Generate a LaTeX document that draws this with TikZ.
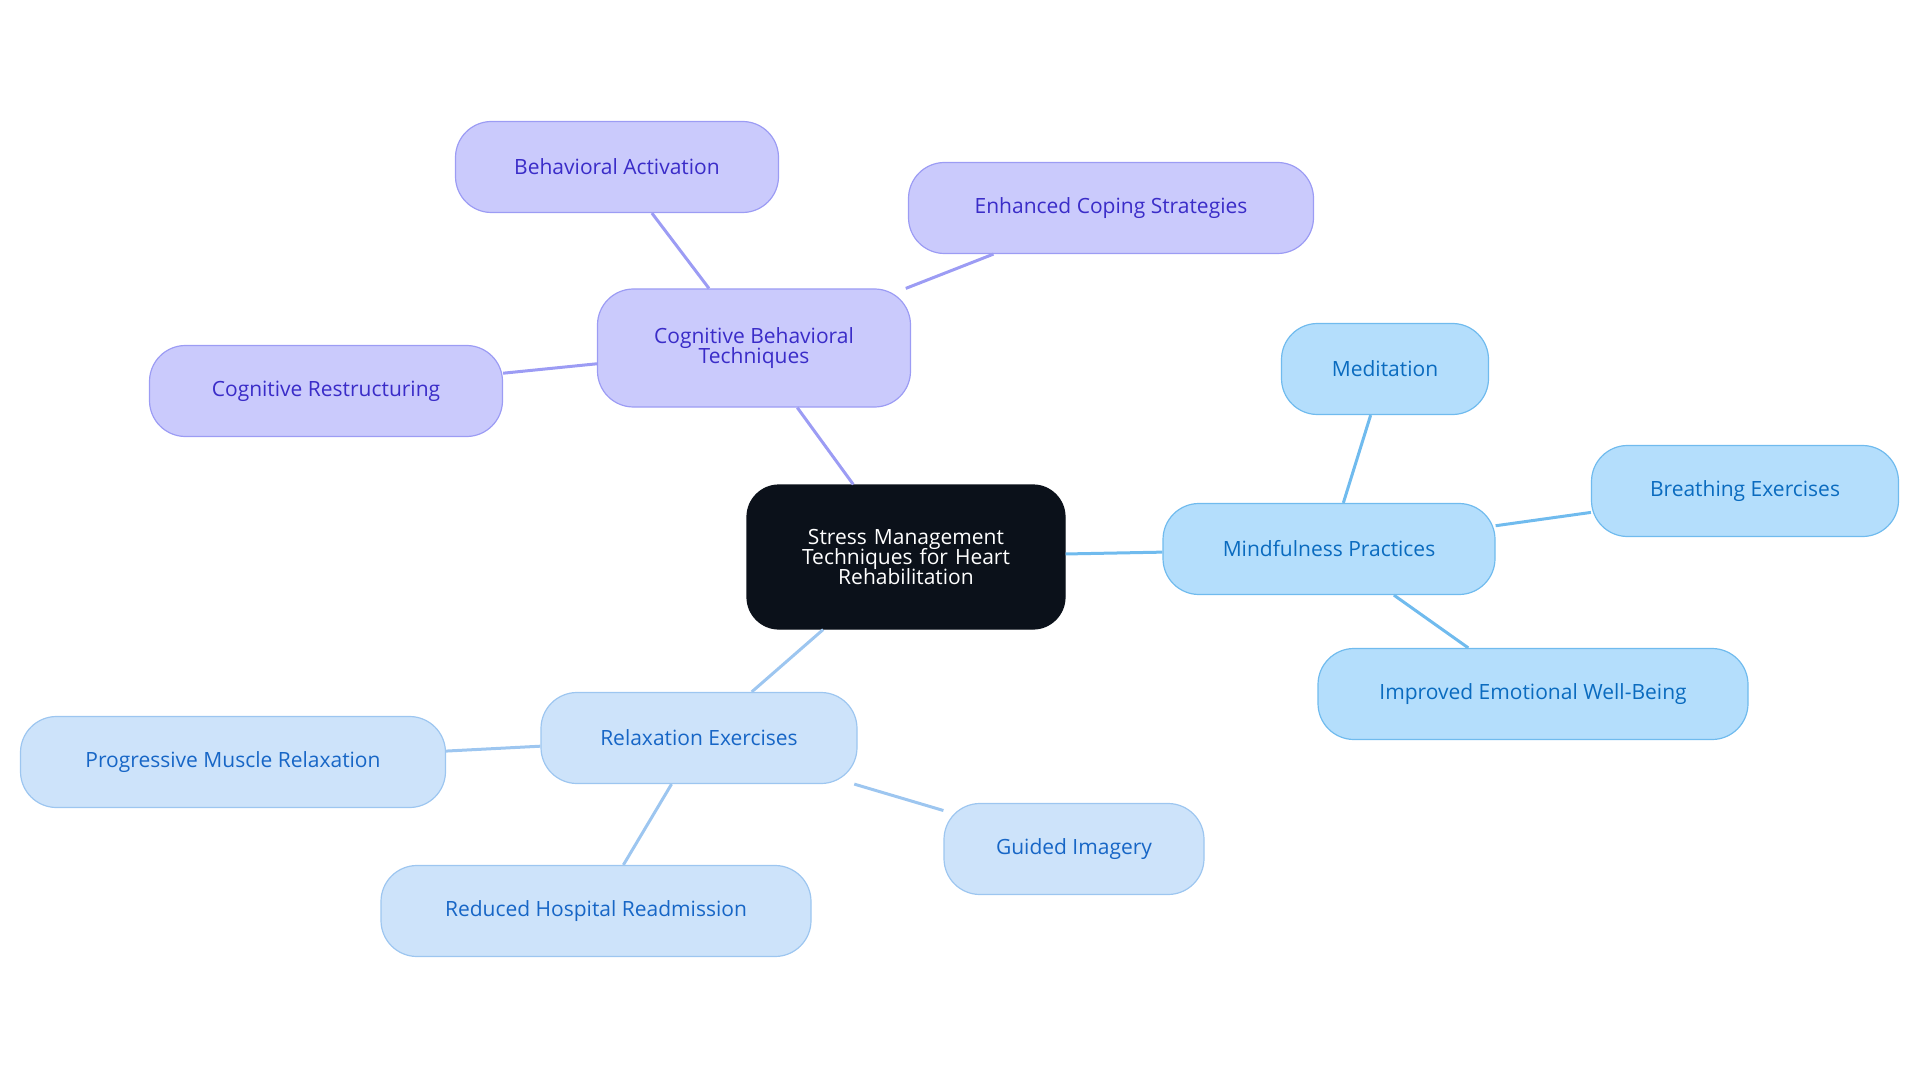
\documentclass[tikz,border=0pt]{standalone}
\usepackage{fontspec}
\setmainfont{Open Sans}
\usetikzlibrary{positioning}
\definecolor{cbtfill}{HTML}{CACAFC}
\definecolor{cbtline}{HTML}{9C9CF4}
\definecolor{cbttext}{HTML}{3A2CC8}
\definecolor{mindfill}{HTML}{B4DEFC}
\definecolor{mindline}{HTML}{70BBEE}
\definecolor{mindtext}{HTML}{0A6BBF}
\definecolor{relfill}{HTML}{CDE3FA}
\definecolor{relline}{HTML}{9DC6F0}
\definecolor{reltext}{HTML}{1766C6}
\definecolor{rootfill}{HTML}{0B111A}
\tikzset{
    topic/.style={
        draw, line width=1.2pt,
        rounded corners=36pt,
        align=center,
        minimum height=91pt,
        font=\fontsize{21}{24}\selectfont,
    },
    cbt/.style={topic, fill=cbtfill, draw=cbtline, text=cbttext},
    mind/.style={topic, fill=mindfill, draw=mindline, text=mindtext},
    rel/.style={topic, fill=relfill, draw=relline, text=reltext},
}
\begin{document}
\begin{tikzpicture}[x=1pt,y=-1pt]
  \useasboundingbox (0,0) rectangle (1920,1083);
  % root
  \node [topic, fill=rootfill, draw=rootfill, text=white, rounded corners=32pt,
         minimum width=318pt, minimum height=144pt, text width=280pt] (root) at (906,557)
        {Stress Management\\[-4pt]Techniques for Heart\\[-4pt]Rehabilitation};
  % cognitive behavioral branch
  \node [cbt, minimum width=313pt, minimum height=118pt] (cbt) at (754,348)
        {Cognitive Behavioral\\[-4pt]Techniques};
  \node [cbt, minimum width=323pt] (activation) at (617,167) {Behavioral Activation};
  \node [cbt, minimum width=405pt] (coping) at (1111,208) {Enhanced Coping Strategies};
  \node [cbt, minimum width=353pt] (restruct) at (326,391) {Cognitive Restructuring};
  % mindfulness branch
  \node [mind, minimum width=332pt] (mind) at (1329,549) {Mindfulness Practices};
  \node [mind, minimum width=207pt] (meditation) at (1385,369) {Meditation};
  \node [mind, minimum width=307pt] (breathing) at (1745,491) {Breathing Exercises};
  \node [mind, minimum width=430pt] (wellbeing) at (1533,694) {Improved Emotional Well-Being};
  % relaxation branch
  \node [rel, minimum width=316pt] (relax) at (699,738) {Relaxation Exercises};
  \node [rel, minimum width=425pt] (muscle) at (233,762) {Progressive Muscle Relaxation};
  \node [rel, minimum width=260pt] (imagery) at (1074,849) {Guided Imagery};
  \node [rel, minimum width=430pt] (readmit) at (596,911) {Reduced Hospital Readmission};
  % connectors
  \begin{scope}[line width=3pt]
    \draw [cbtline] (root) -- (cbt);
    \draw [cbtline] (cbt) -- (activation);
    \draw [cbtline] (cbt) -- (coping);
    \draw [cbtline] (cbt) -- (restruct);
    \draw [mindline] (root) -- (mind);
    \draw [mindline] (mind) -- (meditation);
    \draw [mindline] (mind) -- (breathing);
    \draw [mindline] (mind) -- (wellbeing);
    \draw [relline] (root) -- (relax);
    \draw [relline] (relax) -- (muscle);
    \draw [relline] (relax) -- (imagery);
    \draw [relline] (relax) -- (readmit);
  \end{scope}
\end{tikzpicture}
\end{document}
